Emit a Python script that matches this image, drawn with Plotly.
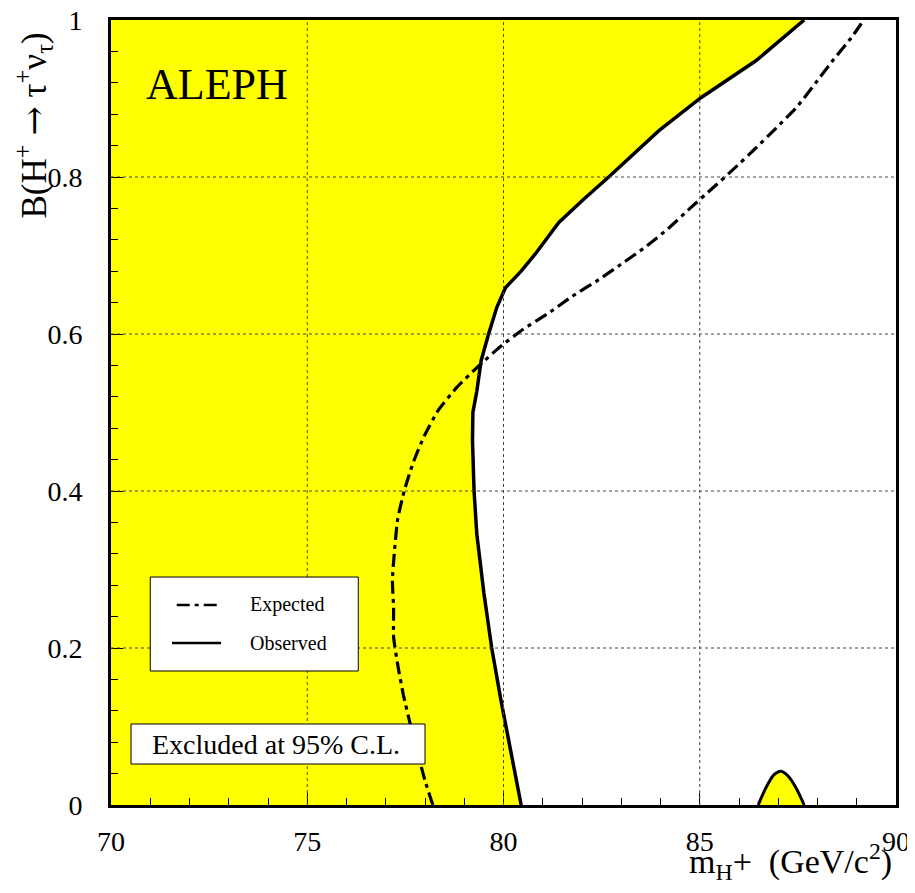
import plotly.graph_objects as go

# Gemessene Ausschlussgrenze (Observed), von unten nach oben
obs_mass = [80.45, 80.17, 79.94, 79.70, 79.50, 79.32, 79.25, 79.21, 79.22, 79.32, 79.43,
            79.62, 79.83, 80.05, 80.45, 80.81, 81.41, 82.05, 82.68, 83.96, 85.03, 86.43, 87.66]
obs_br = [0.0, 0.07, 0.132, 0.2, 0.27, 0.345, 0.4, 0.464, 0.5, 0.527, 0.566,
          0.6, 0.634, 0.659, 0.68, 0.702, 0.742, 0.772, 0.8, 0.859, 0.901, 0.948, 1.0]

# Erwartete Grenze (Expected)
exp_mass = [78.2, 78.0, 77.62, 77.45, 77.31, 77.2, 77.2, 77.17, 77.3, 77.47, 77.69, 77.98,
            78.34, 78.81, 79.34, 79.9, 80.5, 81.13, 81.75, 82.39, 83.0, 83.62, 84.19, 84.75,
            85.31, 85.86, 86.41, 86.94, 87.47, 87.94, 88.4, 88.87, 89.18]
exp_br = [0.0, 0.031, 0.104, 0.14, 0.177, 0.214, 0.251, 0.287, 0.363, 0.4, 0.435, 0.47,
          0.503, 0.532, 0.558, 0.583, 0.606, 0.626, 0.648, 0.668, 0.689, 0.711, 0.734, 0.76,
          0.785, 0.81, 0.836, 0.862, 0.889, 0.919, 0.949, 0.978, 1.0]

# Kleine ausgeschlossene Insel bei ~87 GeV
bump_mass = [86.49, 86.6, 86.73, 86.9, 87.07, 87.25, 87.45, 87.66]
bump_br = [0.0, 0.013, 0.026, 0.039, 0.043, 0.037, 0.022, 0.0]

x_grid = [75, 80, 85]
y_grid = [0.2, 0.4, 0.6, 0.8]

FONT = "Liberation Serif, Times New Roman, serif"
YELLOW = "#FFFF00"
DASHDOT = "13px,5px,4px,5px"

fig = go.Figure()

# Ausgeschlossener Bereich (gelb)
fig.add_trace(go.Scatter(
    x=[70] + obs_mass + [70], y=[0] + obs_br + [1],
    fill="toself", fillcolor=YELLOW, mode="lines", line=dict(width=0),
    hoverinfo="skip", showlegend=False))
fig.add_trace(go.Scatter(
    x=bump_mass, y=bump_br, fill="toself", fillcolor=YELLOW, mode="lines",
    line=dict(color="black", width=3, shape="spline"), showlegend=False))

fig.add_trace(go.Scatter(
    x=exp_mass, y=exp_br, mode="lines", name="Expected",
    line=dict(color="black", width=3.2, dash=DASHDOT, shape="spline", smoothing=0.5),
    showlegend=False))
fig.add_trace(go.Scatter(
    x=obs_mass, y=obs_br, mode="lines", name="Observed",
    line=dict(color="black", width=3.5), showlegend=False))

# Gitterlinien ueber der gelben Flaeche
shapes = []
for gx in x_grid:
    shapes.append(dict(type="line", xref="x", yref="y", x0=gx, x1=gx, y0=0, y1=1,
                       layer="above", line=dict(color="#444", width=1, dash="dot")))
for gy in y_grid:
    shapes.append(dict(type="line", xref="x", yref="y", x0=70, x1=90, y0=gy, y1=gy,
                       layer="above", line=dict(color="#444", width=1, dash="dot")))

# Legendenbox
shapes.append(dict(type="rect", xref="paper", yref="paper", x0=0.050, x1=0.315,
                   y0=0.1707, y1=0.2904, layer="above",
                   fillcolor="white", line=dict(color="black", width=1)))
shapes.append(dict(type="line", xref="paper", yref="paper", x0=0.0837, x1=0.1401,
                   y0=0.2548, y1=0.2548, layer="above",
                   line=dict(color="black", width=2.5, dash=DASHDOT)))
shapes.append(dict(type="line", xref="paper", yref="paper", x0=0.0777, x1=0.1401,
                   y0=0.2064, y1=0.2064, layer="above",
                   line=dict(color="black", width=2.5)))
# "Excluded"-Box
shapes.append(dict(type="rect", xref="paper", yref="paper", x0=0.0255, x1=0.40,
                   y0=0.0522, y1=0.1032, layer="above",
                   fillcolor="white", line=dict(color="black", width=1)))

annotations = [
    dict(text="ALEPH", x=0.042, y=0.918, xref="paper", yref="paper", xanchor="left",
         yanchor="middle", showarrow=False, font=dict(family=FONT, size=44, color="black")),
    dict(text="Expected", x=0.1749, y=0.2548, xref="paper", yref="paper", xanchor="left",
         yanchor="middle", showarrow=False, font=dict(family=FONT, size=20, color="black")),
    dict(text="Observed", x=0.1749, y=0.2064, xref="paper", yref="paper", xanchor="left",
         yanchor="middle", showarrow=False, font=dict(family=FONT, size=20, color="black")),
    dict(text="Excluded at 95% C.L.", x=0.050, y=0.0777, xref="paper", yref="paper",
         xanchor="left", yanchor="middle", showarrow=False,
         font=dict(family=FONT, size=28, color="black")),
    dict(text="B(H<sup>+</sup> <span style='font-family:DejaVu Serif'>→</span> "
              "τ<sup>+</sup>ν<sub>τ</sub>)",
         x=-0.099, y=0.866, xref="paper", yref="paper", xanchor="center",
         yanchor="middle", textangle=-90,
         showarrow=False, font=dict(family=FONT, size=35, color="black")),
    dict(text="m<sub>H</sub>+  (GeV/c<sup>2</sup>)", x=0.997, y=-0.072, xref="paper",
         yref="paper", xanchor="right", yanchor="middle", showarrow=False,
         font=dict(family=FONT, size=34, color="black")),
]

# Seite wird mit ~7px Rand angezeigt -> Raender entsprechend verkleinert
fig.update_layout(
    width=915, height=893,
    margin=dict(l=103, r=27, t=12, b=96),
    plot_bgcolor="white", paper_bgcolor="white",
    shapes=shapes, annotations=annotations,
    font=dict(family=FONT, size=28, color="black"),
)
fig.update_xaxes(
    range=[70, 90], dtick=5, tick0=70, showgrid=False, zeroline=False, automargin=False,
    showline=True, mirror=True, linewidth=3, linecolor="black",
    ticks="inside", ticklen=12, tickwidth=1, tickcolor="black",
    minor=dict(dtick=1, ticks="inside", ticklen=7, tickcolor="black", showgrid=False),
    ticklabelstandoff=9, ticklabeloverflow="allow",
    tickfont=dict(family=FONT, size=28), layer="above traces")
fig.update_yaxes(
    range=[0, 1], dtick=0.2, tick0=0, showgrid=False, zeroline=False, automargin=False,
    showline=True, mirror=True, linewidth=3, linecolor="black",
    ticks="inside", ticklen=12, tickwidth=1, tickcolor="black",
    minor=dict(dtick=0.04, ticks="inside", ticklen=7, tickcolor="black", showgrid=False),
    ticklabelstandoff=20, ticklabeloverflow="allow",
    tickfont=dict(family=FONT, size=28), layer="above traces")

fig.write_html("out.html")
